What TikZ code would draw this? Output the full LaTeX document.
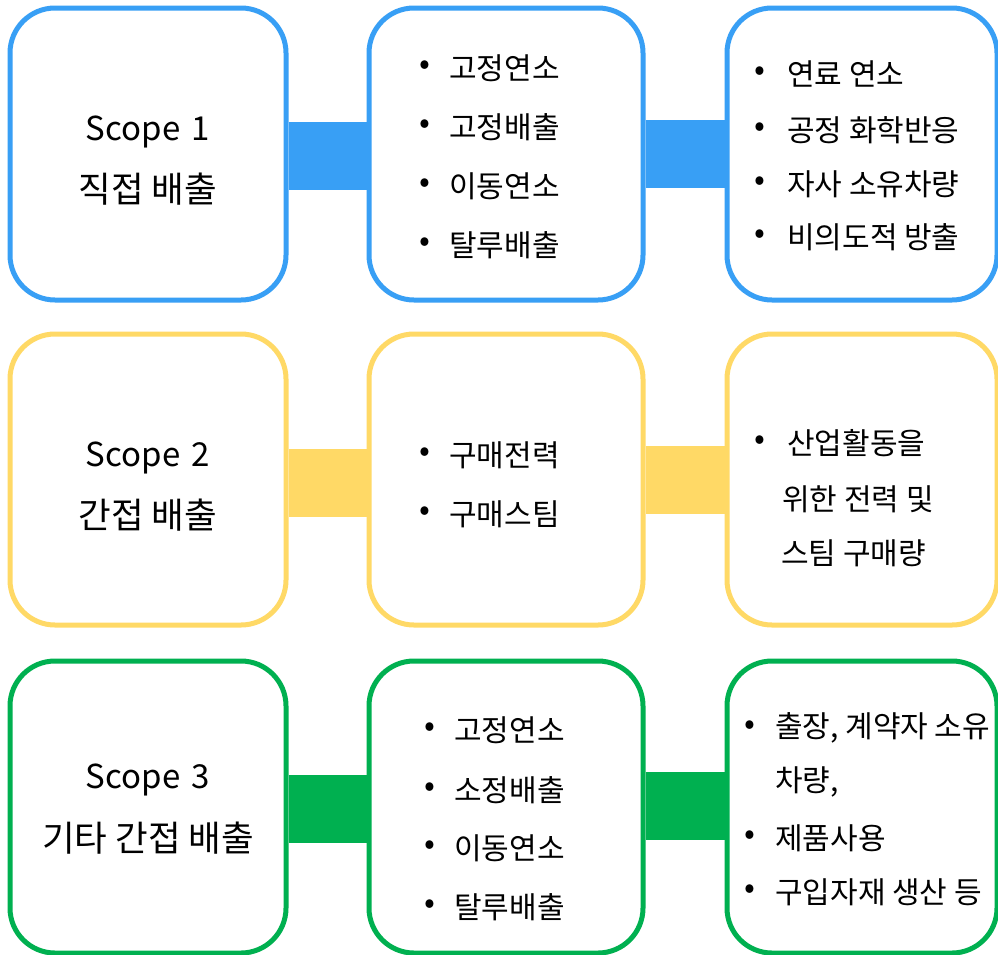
\documentclass[tikz,border=0pt]{standalone}
\usepackage{fontspec}
\setmainfont{Noto Sans CJK KR}
\definecolor{sblue}{RGB}{56,159,245}
\definecolor{syellow}{RGB}{255,217,102}
\definecolor{sgreen}{RGB}{0,176,80}
\begin{document}
\begin{tikzpicture}[x=1pt,y=-1pt,
  box/.style={draw=#1, line width=5pt, rounded corners=45pt, fill=white, inner sep=0pt},
  conn/.style={draw=#1, line width=68pt},
  item/.style={anchor=west, inner sep=0pt, font=\fontsize{30}{36}\selectfont},
  dot/.style={anchor=center, inner sep=0pt, font=\fontsize{32}{36}\selectfont},
  title/.style={anchor=center, inner sep=0pt, font=\fontsize{35.5}{40}\selectfont},
  scopet/.style={anchor=center, inner sep=0pt, font=\fontsize{33}{40}\selectfont}]
\clip (0,0) rectangle (998,954);
\fill[white] (0,0) rectangle (998,954);
% ---- row 1
\node[box=sblue, minimum width=276pt, minimum height=292pt] (b11) at (148,154) {};
\node[box=sblue, minimum width=274pt, minimum height=292pt] (b12) at (506,154) {};
\node[box=sblue, minimum width=270pt, minimum height=292pt] (b13) at (862,154) {};
\draw[conn=sblue] ([yshift=-2pt]b11.east) -- ([yshift=-2pt]b12.west);
\draw[conn=sblue] (b12.east) -- (b13.west);
% ---- row 2
\node[box=syellow, minimum width=276pt, minimum height=291pt] (b21) at (148,479.5) {};
\node[box=syellow, minimum width=274pt, minimum height=291pt] (b22) at (506,479.5) {};
\node[box=syellow, minimum width=270pt, minimum height=291pt] (b23) at (862,479.5) {};
\draw[conn=syellow] ([yshift=-3pt]b21.east) -- ([yshift=-3pt]b22.west);
\draw[conn=syellow] (b22.east) -- (b23.west);
% ---- row 3
\node[box=sgreen, minimum width=276pt, minimum height=292pt] (b31) at (148,807) {};
\node[box=sgreen, minimum width=274pt, minimum height=292pt] (b32) at (506,807) {};
\node[box=sgreen, minimum width=270pt, minimum height=292pt] (b33) at (862,807) {};
\draw[conn=sgreen] ([yshift=-2pt]b31.east) -- ([yshift=-2pt]b32.west);
\draw[conn=sgreen] ([yshift=1pt]b32.east) -- ([yshift=1pt]b33.west);
% ---- titles
\node[scopet] (s1) at (148,132) {Scope\hspace{0.12em} 1};
\node[title] (t1) at (148,189) {직접 배출};
\node[scopet] (s2) at (148,458) {Scope\hspace{0.12em} 2};
\node[title] (t2) at (148,515) {간접 배출};
\node[scopet] (s3) at (148,780) {Scope\hspace{0.12em} 3};
\node[title] (t3) at (148,838) {기타 간접 배출};
% ---- row 1 lists
\node[dot] (d121) at (425,68) {•};
\node[item] (i121) at (449,68) {고정연소};
\node[dot] (d122) at (425,127) {•};
\node[item] (i122) at (449,127) {고정배출};
\node[dot] (d123) at (425,186) {•};
\node[item] (i123) at (449,186) {이동연소};
\node[dot] (d124) at (425,245) {•};
\node[item] (i124) at (449,245) {탈루배출};
\node[dot] (d131) at (760,74) {•};
\node[item] (i131) at (787,74) {연료 연소};
\node[dot] (d132) at (760,130) {•};
\node[item] (i132) at (787,130) {공정 화학반응};
\node[dot] (d133) at (760,184) {•};
\node[item] (i133) at (787,184) {자사 소유차량};
\node[dot] (d134) at (760,237) {•};
\node[item] (i134) at (787,237) {비의도적 방출};
% ---- row 2 lists
\node[dot] (d221) at (425,455) {•};
\node[item] (i221) at (449,455) {구매전력};
\node[dot] (d222) at (425,514) {•};
\node[item] (i222) at (449,514) {구매스팀};
\node[dot] (d231) at (760,443) {•};
\node[item] (i231) at (787,443) {산업활동을};
\node[item] (i232) at (782,499) {위한 전력 및};
\node[item] (i233) at (781,553) {스팀 구매량};
% ---- row 3 lists
\node[dot] (d321) at (430,730) {•};
\node[item] (i321) at (454,730) {고정연소};
\node[dot] (d322) at (430,790) {•};
\node[item] (i322) at (454,790) {소정배출};
\node[dot] (d323) at (430,848) {•};
\node[item] (i323) at (454,848) {이동연소};
\node[dot] (d324) at (430,907) {•};
\node[item] (i324) at (454,907) {탈루배출};
\node[dot] (d331) at (750,728) {•};
\node[item] (i331) at (775,728) {출장, 계약자 소유};
\node[item] (i332) at (775,782) {차량,};
\node[dot] (d333) at (750,838) {•};
\node[item] (i333) at (775,838) {제품사용};
\node[dot] (d334) at (750,892) {•};
\node[item] (i334) at (775,892) {구입자재 생산 등};
\end{tikzpicture}
\end{document}
